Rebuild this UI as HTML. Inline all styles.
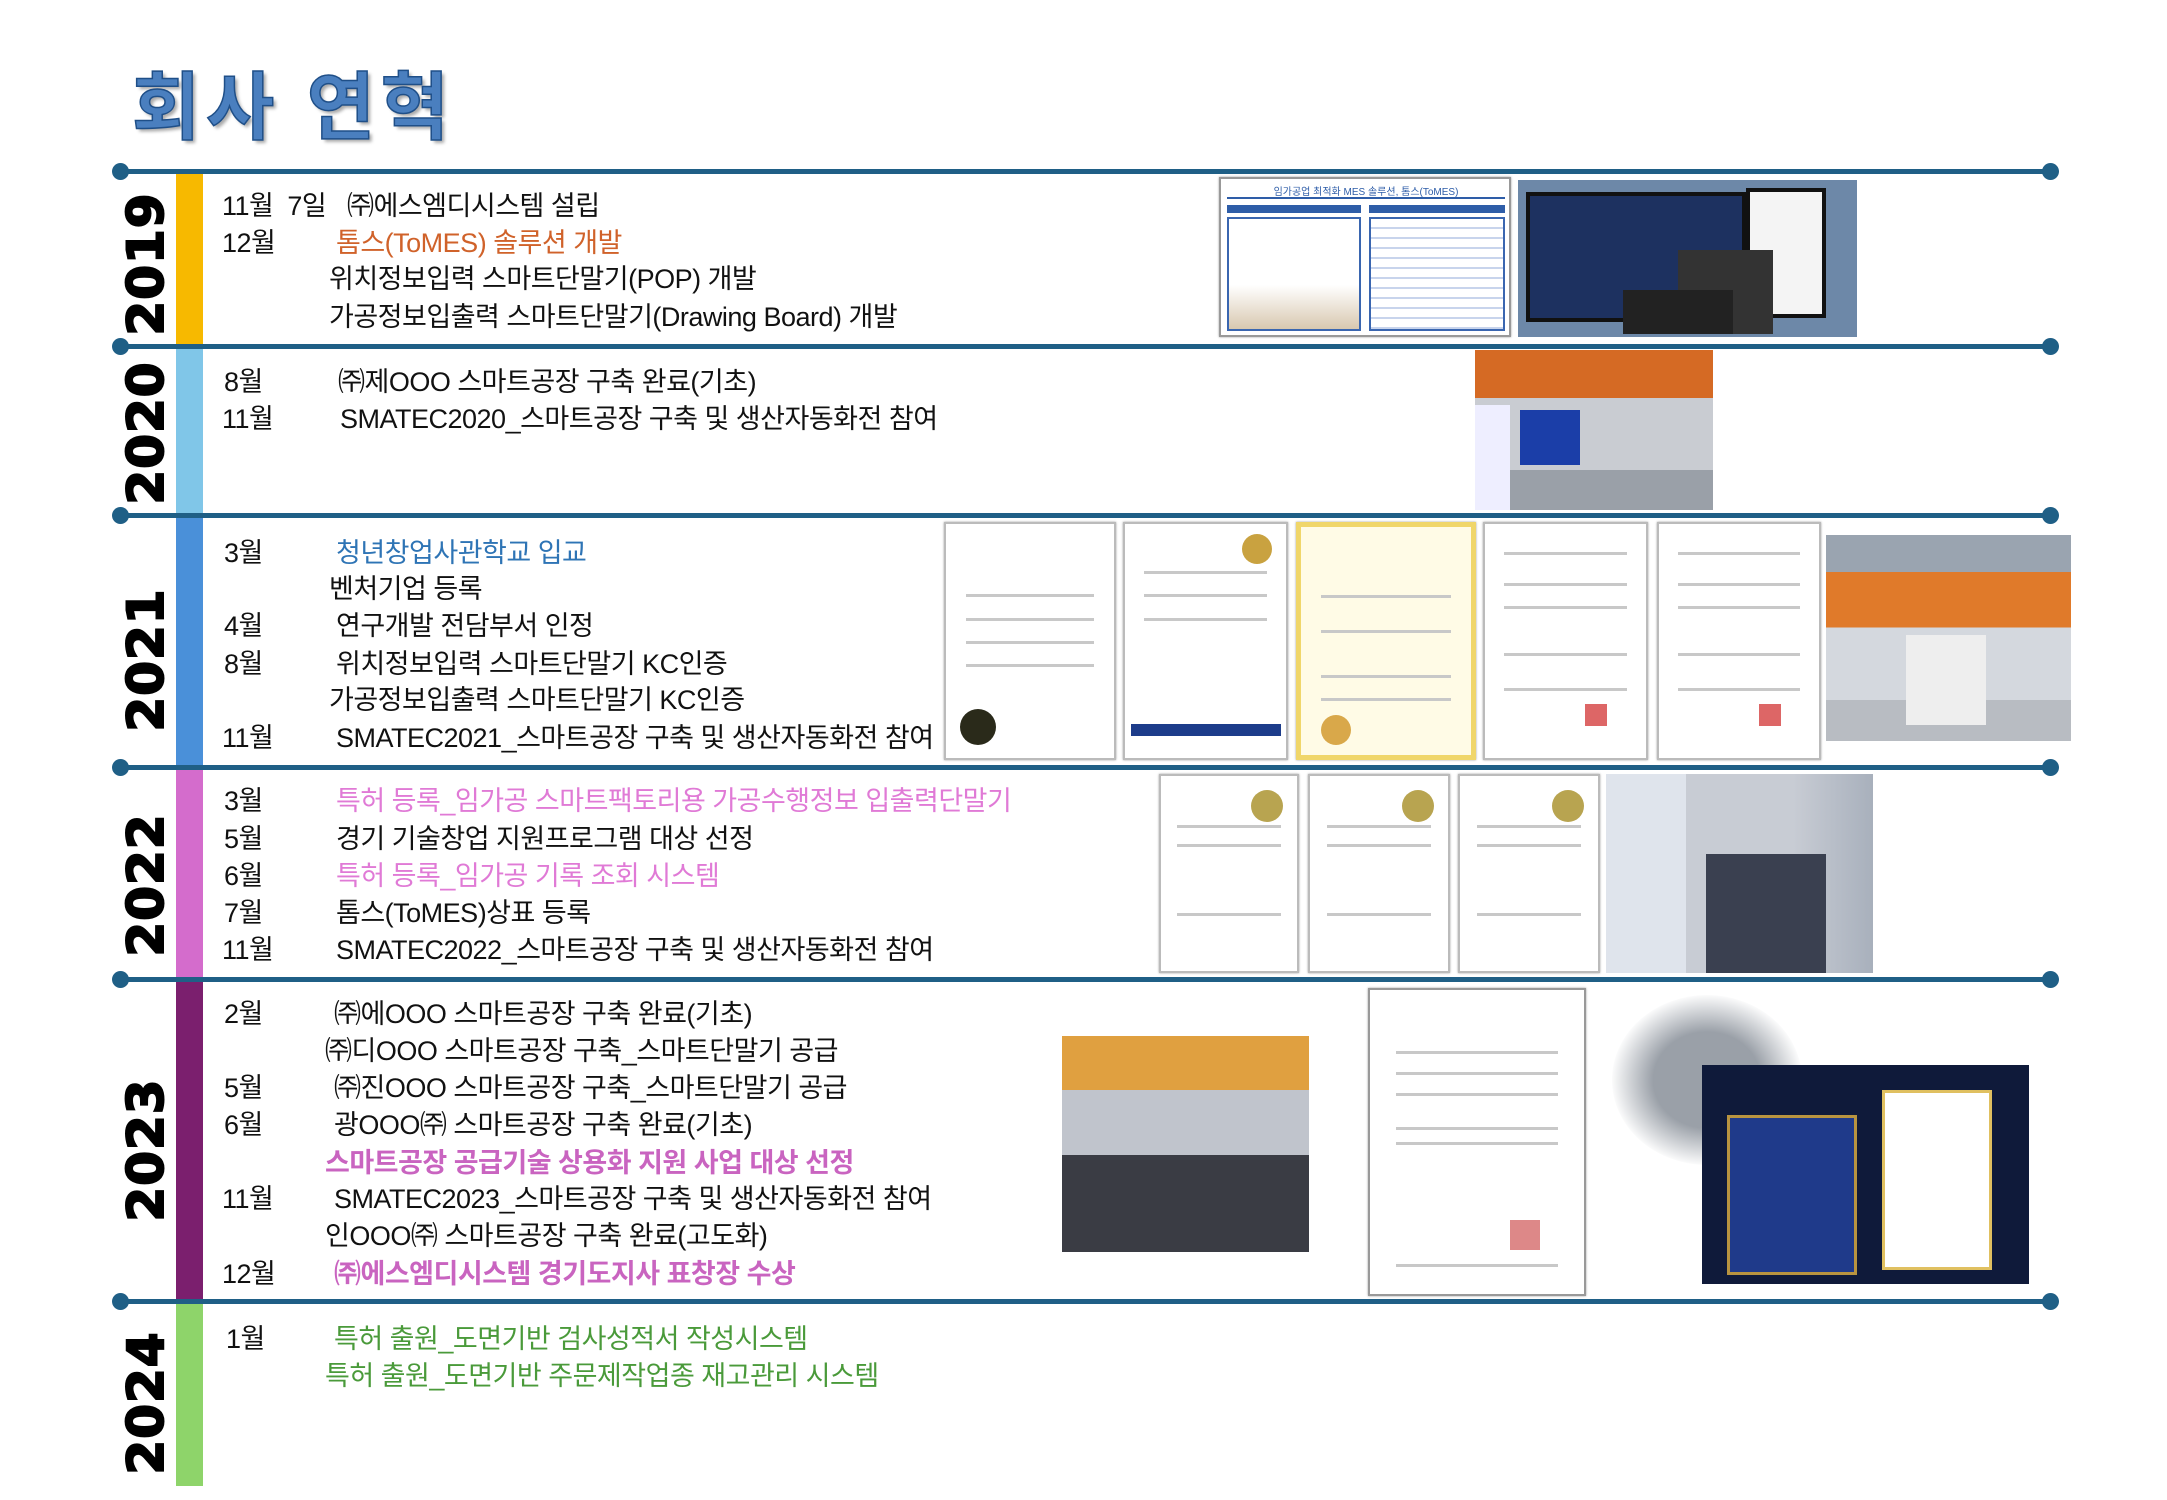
<!DOCTYPE html>
<html><head><meta charset="utf-8"><style>
*{margin:0;padding:0;box-sizing:border-box}
body{width:2167px;height:1500px;background:#fff;position:relative;overflow:hidden;font-family:"Liberation Sans","Noto Sans CJK KR",sans-serif}
.a{position:absolute}
.hl{position:absolute;left:119px;width:1931px;height:5px;background:#1f5f86}
.dot{position:absolute;width:17px;height:17px;border-radius:50%;background:#1f5f86}
.bar{position:absolute;left:176px;width:27px}
.yr{position:absolute;left:146px;font-family:"DejaVu Sans","Liberation Sans",sans-serif;font-weight:900;font-size:50px;color:#000;transform:translate(-50%,-50%) rotate(-90deg);letter-spacing:1px;-webkit-text-stroke:2px #000}
.t{position:absolute;font-size:27px;line-height:36px;color:#111;white-space:nowrap;letter-spacing:-0.5px}
.o{color:#d0622a}.b{color:#2e74b5}.p{color:#e07ad6}.pb{color:#c964c0;font-weight:bold}.g{color:#4a9a3a}
.cert{position:absolute;background:#fff;border:2px solid #bbb;box-shadow:0 0 2px #999}
.cert i{position:absolute;left:12%;right:12%;height:3px;background:#c8c8c8}
.ph{position:absolute;overflow:hidden}
</style></head><body>
<div class="a" style="left:132px;top:48px;font-size:74px;font-weight:bold;color:#4a7fbf;letter-spacing:6px;-webkit-text-stroke:1.5px #1f4f88;text-shadow:3px 3px 3px #aaa">회사 연혁</div>

<div class="bar" style="top:171px;height:175px;background:#f7b900"></div>
<div class="bar" style="top:346px;height:169px;background:#80c6e8"></div>
<div class="bar" style="top:515px;height:252px;background:#4a90d9"></div>
<div class="bar" style="top:767px;height:212px;background:#d46ccc"></div>
<div class="bar" style="top:979px;height:322px;background:#7b1f6e"></div>
<div class="bar" style="top:1301px;height:185px;background:#8ed46a"></div>

<div class="hl" style="top:169px"></div><div class="hl" style="top:344px"></div><div class="hl" style="top:513px"></div><div class="hl" style="top:765px"></div><div class="hl" style="top:977px"></div><div class="hl" style="top:1299px"></div>
<div class="dot" style="left:112px;top:163px"></div><div class="dot" style="left:2042px;top:163px"></div>
<div class="dot" style="left:112px;top:338px"></div><div class="dot" style="left:2042px;top:338px"></div>
<div class="dot" style="left:112px;top:507px"></div><div class="dot" style="left:2042px;top:507px"></div>
<div class="dot" style="left:112px;top:759px"></div><div class="dot" style="left:2042px;top:759px"></div>
<div class="dot" style="left:112px;top:971px"></div><div class="dot" style="left:2042px;top:971px"></div>
<div class="dot" style="left:112px;top:1293px"></div><div class="dot" style="left:2042px;top:1293px"></div>

<div class="yr" style="top:264px">2019</div>
<div class="yr" style="top:433px">2020</div>
<div class="yr" style="top:660px">2021</div>
<div class="yr" style="top:885px">2022</div>
<div class="yr" style="top:1150px">2023</div>
<div class="yr" style="top:1403px">2024</div>

<!-- 2019 -->
<div class="t" style="left:222px;top:188px">11월&nbsp;&nbsp;7일</div><div class="t" style="left:347px;top:188px">㈜에스엠디시스템 설립</div>
<div class="t" style="left:222px;top:225px">12월</div><div class="t o" style="left:336px;top:225px">톰스(ToMES) 솔루션 개발</div>
<div class="t" style="left:329px;top:261px">위치정보입력 스마트단말기(POP) 개발</div>
<div class="t" style="left:329px;top:299px">가공정보입출력 스마트단말기(Drawing Board) 개발</div>
<!-- 2020 -->
<div class="t" style="left:224px;top:364px">8월</div><div class="t" style="left:338px;top:364px">㈜제OOO 스마트공장 구축 완료(기초)</div>
<div class="t" style="left:222px;top:401px">11월</div><div class="t" style="left:340px;top:401px">SMATEC2020_스마트공장 구축 및 생산자동화전 참여</div>
<!-- 2021 -->
<div class="t" style="left:224px;top:535px">3월</div><div class="t b" style="left:336px;top:535px">청년창업사관학교 입교</div>
<div class="t" style="left:329px;top:571px">벤처기업 등록</div>
<div class="t" style="left:224px;top:608px">4월</div><div class="t" style="left:336px;top:608px">연구개발 전담부서 인정</div>
<div class="t" style="left:224px;top:646px">8월</div><div class="t" style="left:336px;top:646px">위치정보입력 스마트단말기 KC인증</div>
<div class="t" style="left:329px;top:682px">가공정보입출력 스마트단말기 KC인증</div>
<div class="t" style="left:222px;top:720px">11월</div><div class="t" style="left:336px;top:720px">SMATEC2021_스마트공장 구축 및 생산자동화전 참여</div>
<!-- 2022 -->
<div class="t" style="left:224px;top:783px">3월</div><div class="t p" style="left:336px;top:783px">특허 등록_임가공 스마트팩토리용 가공수행정보 입출력단말기</div>
<div class="t" style="left:224px;top:821px">5월</div><div class="t" style="left:336px;top:821px">경기 기술창업 지원프로그램 대상 선정</div>
<div class="t" style="left:224px;top:858px">6월</div><div class="t p" style="left:336px;top:858px">특허 등록_임가공 기록 조회 시스템</div>
<div class="t" style="left:224px;top:895px">7월</div><div class="t" style="left:336px;top:895px">톰스(ToMES)상표 등록</div>
<div class="t" style="left:222px;top:932px">11월</div><div class="t" style="left:336px;top:932px">SMATEC2022_스마트공장 구축 및 생산자동화전 참여</div>
<!-- 2023 -->
<div class="t" style="left:224px;top:996px">2월</div><div class="t" style="left:334px;top:996px">㈜에OOO 스마트공장 구축 완료(기초)</div>
<div class="t" style="left:325px;top:1033px">㈜디OOO 스마트공장 구축_스마트단말기 공급</div>
<div class="t" style="left:224px;top:1070px">5월</div><div class="t" style="left:334px;top:1070px">㈜진OOO 스마트공장 구축_스마트단말기 공급</div>
<div class="t" style="left:224px;top:1107px">6월</div><div class="t" style="left:334px;top:1107px">광OOO㈜ 스마트공장 구축 완료(기초)</div>
<div class="t pb" style="left:325px;top:1145px">스마트공장 공급기술 상용화 지원 사업 대상 선정</div>
<div class="t" style="left:222px;top:1181px">11월</div><div class="t" style="left:334px;top:1181px">SMATEC2023_스마트공장 구축 및 생산자동화전 참여</div>
<div class="t" style="left:325px;top:1218px">인OOO㈜ 스마트공장 구축 완료(고도화)</div>
<div class="t" style="left:222px;top:1256px">12월</div><div class="t pb" style="left:334px;top:1256px">㈜에스엠디시스템 경기도지사 표창장 수상</div>
<!-- 2024 -->
<div class="t" style="left:226px;top:1321px">1월</div><div class="t g" style="left:334px;top:1321px">특허 출원_도면기반 검사성적서 작성시스템</div>
<div class="t g" style="left:325px;top:1358px">특허 출원_도면기반 주문제작업종 재고관리 시스템</div>

<!-- 2019 images -->
<div class="cert" style="left:1219px;top:177px;width:292px;height:160px;border-color:#999">
 <div class="a" style="left:6px;top:4px;width:278px;height:16px;border-bottom:2px solid #2e5da8;font-size:10px;color:#2e5da8;text-align:center">임가공업 최적화 MES 솔루션, 톰스(ToMES)</div>
 <div class="a" style="left:6px;top:26px;width:134px;height:8px;background:#2e5da8"></div><div class="a" style="left:148px;top:26px;width:136px;height:8px;background:#2e5da8"></div>
 <div class="a" style="left:6px;top:38px;width:134px;height:114px;border:2px solid #3a66b0;background:linear-gradient(#fff 60%,#d8c8b0)"></div>
 <div class="a" style="left:148px;top:38px;width:136px;height:114px;border:2px solid #3a66b0;background:repeating-linear-gradient(#fff 0 8px,#c8d4ec 8px 10px)"></div>
</div>
<div class="ph" style="left:1518px;top:180px;width:339px;height:157px;background:#6d88a8">
 <div class="a" style="left:8px;top:12px;width:220px;height:130px;background:#1d3160;border:4px solid #111"></div>
 <div class="a" style="left:228px;top:8px;width:80px;height:130px;background:#f4f4f4;border:4px solid #111"></div>
 <div class="a" style="left:160px;top:70px;width:95px;height:84px;background:#333"></div>
 <div class="a" style="left:105px;top:110px;width:110px;height:44px;background:#222"></div>
</div>
<!-- 2020 -->
<div class="ph" style="left:1475px;top:350px;width:238px;height:160px;background:linear-gradient(#d56a24 0 30%,#c9ccd2 30% 75%,#9aa0a8 75%)">
 <div class="a" style="left:45px;top:60px;width:60px;height:55px;background:#1b3ea8"></div>
 <div class="a" style="left:0;top:55px;width:35px;height:105px;background:#eef"></div>
</div>
<!-- 2021 -->
<div class="cert" style="left:944px;top:522px;width:172px;height:238px"><i style="top:30%"></i><i style="top:40%"></i><i style="top:50%"></i><i style="top:60%"></i><div class="a" style="left:14px;top:185px;width:36px;height:36px;border-radius:50%;background:#2a2a1a"></div></div>
<div class="cert" style="left:1123px;top:522px;width:165px;height:238px"><i style="top:20%"></i><i style="top:30%"></i><i style="top:40%"></i><div class="a" style="right:14px;top:10px;width:30px;height:30px;border-radius:50%;background:#c9a240"></div><div class="a" style="left:6px;top:200px;width:150px;height:12px;background:#1d3c8a"></div></div>
<div class="cert" style="left:1296px;top:522px;width:180px;height:238px;background:#fffbe6;border:5px solid #f0d66a"><i style="top:30%"></i><i style="top:45%"></i><i style="top:65%"></i><i style="top:75%"></i><div class="a" style="left:20px;top:188px;width:30px;height:30px;border-radius:50%;background:#d9a84a"></div></div>
<div class="cert" style="left:1483px;top:522px;width:165px;height:238px"><i style="top:12%"></i><i style="top:25%"></i><i style="top:35%"></i><i style="top:55%"></i><i style="top:70%"></i><div class="a" style="left:100px;top:180px;width:22px;height:22px;background:#d66"></div></div>
<div class="cert" style="left:1657px;top:522px;width:164px;height:238px"><i style="top:12%"></i><i style="top:25%"></i><i style="top:35%"></i><i style="top:55%"></i><i style="top:70%"></i><div class="a" style="left:100px;top:180px;width:22px;height:22px;background:#d66"></div></div>
<div class="ph" style="left:1826px;top:535px;width:245px;height:206px;background:linear-gradient(#9aa4b0 0 18%,#e07a2a 18% 45%,#d4d8de 45% 80%,#b8bcc2 80%)"><div class="a" style="left:80px;top:100px;width:80px;height:90px;background:#eee"></div></div>
<!-- 2022 -->
<div class="cert" style="left:1159px;top:774px;width:140px;height:199px"><i style="top:25%"></i><i style="top:35%"></i><i style="top:70%"></i><div class="a" style="right:14px;top:14px;width:32px;height:32px;border-radius:50%;background:#b8a450"></div></div>
<div class="cert" style="left:1308px;top:774px;width:142px;height:199px"><i style="top:25%"></i><i style="top:35%"></i><i style="top:70%"></i><div class="a" style="right:14px;top:14px;width:32px;height:32px;border-radius:50%;background:#b8a450"></div></div>
<div class="cert" style="left:1458px;top:774px;width:142px;height:199px"><i style="top:25%"></i><i style="top:35%"></i><i style="top:70%"></i><div class="a" style="right:14px;top:14px;width:32px;height:32px;border-radius:50%;background:#b8a450"></div></div>
<div class="ph" style="left:1606px;top:774px;width:267px;height:199px;background:linear-gradient(90deg,#dfe4ec 0 30%,#c8ccd4 30% 70%,#a8b0bc)"><div class="a" style="left:100px;top:80px;width:120px;height:119px;background:#3a4050"></div></div>
<!-- 2023 -->
<div class="ph" style="left:1062px;top:1036px;width:247px;height:216px;background:linear-gradient(#e0a040 0 25%,#c0c4cc 25% 55%,#3a3c44 55%)"></div>
<div class="cert" style="left:1368px;top:988px;width:218px;height:308px;border-color:#999"><i style="top:20%"></i><i style="top:27%"></i><i style="top:34%"></i><i style="top:45%"></i><i style="top:50%"></i><i style="top:90%"></i><div class="a" style="left:140px;top:230px;width:30px;height:30px;background:#d88"></div></div>
<div class="ph" style="left:1612px;top:995px;width:417px;height:289px">
 <div class="a" style="left:0;top:0;width:190px;height:170px;border-radius:50%;background:radial-gradient(#9aa0a8 40%,#fff 72%)"></div>
 <div class="a" style="left:90px;top:70px;width:327px;height:219px;background:#0f1a3a"></div>
 <div class="a" style="left:115px;top:120px;width:130px;height:160px;background:#1f3a8a;border:3px solid #b89440"></div>
 <div class="a" style="left:270px;top:95px;width:110px;height:180px;background:#fff;border:3px solid #e0c060"></div>
</div>
</body></html>
